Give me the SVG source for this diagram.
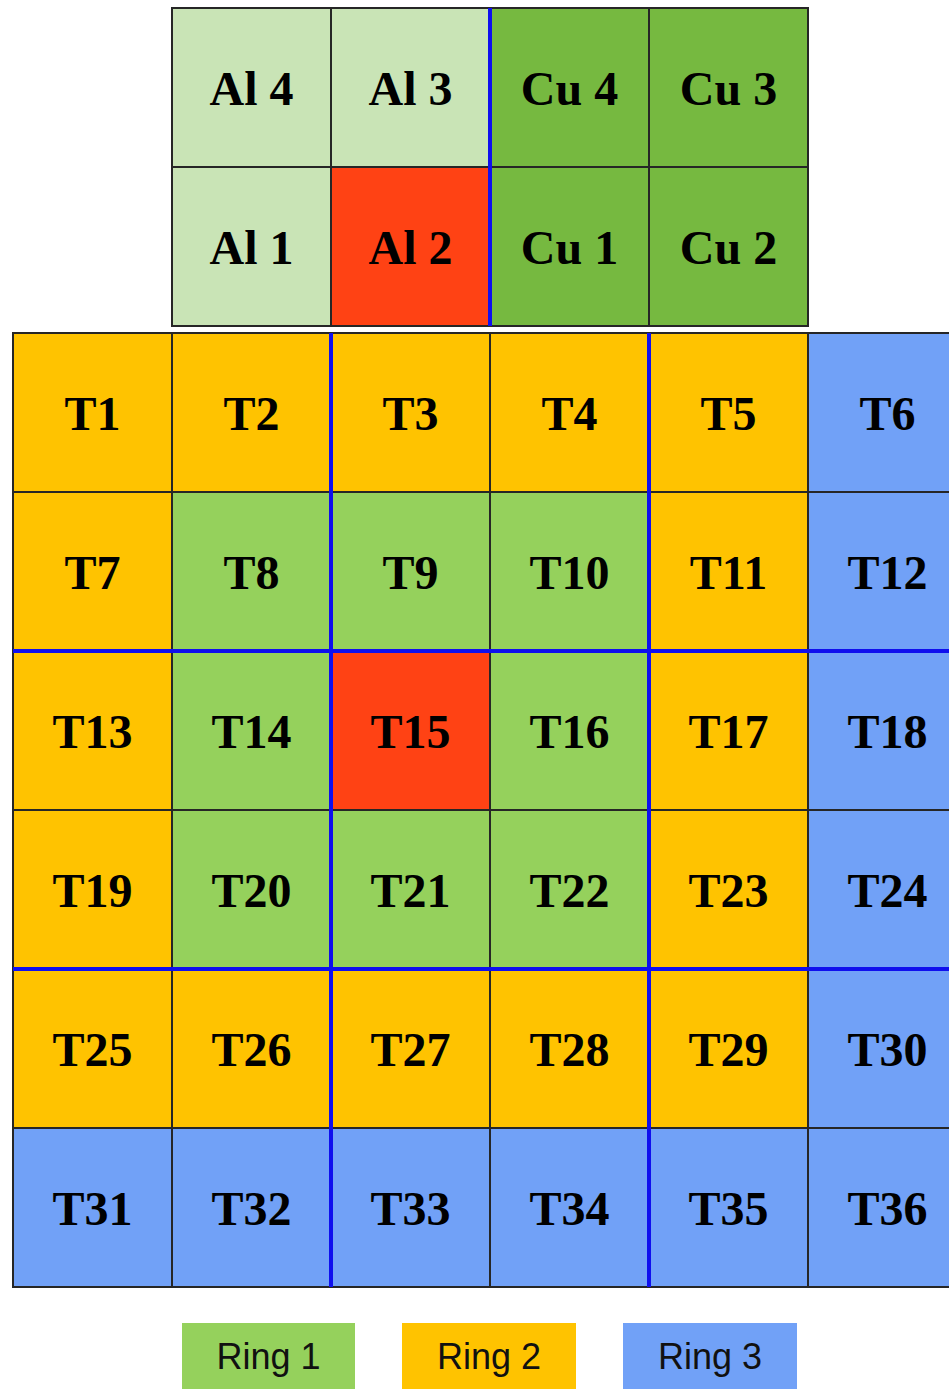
<svg xmlns="http://www.w3.org/2000/svg" width="949" height="1389" viewBox="0 0 949 1389">
<style>
rect.c{stroke:#262626;stroke-width:2}
.al{fill:#C9E4B6}.cu{fill:#76B940}.r{fill:#FF4214}.y{fill:#FFC300}.g{fill:#95D15C}.b{fill:#71A1F7}
text.t{font-family:"Liberation Serif","Times New Roman",serif;font-weight:bold;font-size:48px;fill:#000;text-anchor:middle}
text.l{font-family:"Liberation Sans",Arial,sans-serif;font-size:36px;fill:#111;text-anchor:middle}
.div{stroke:#0F0FEE;stroke-width:4;fill:none}
</style>
<rect width="949" height="1389" fill="#fff"/>
<g id="Al4"><rect class="c al" x="172" y="8" width="159" height="159"/><text class="t" x="251.5" y="105">Al 4</text></g>
<g id="Al3"><rect class="c al" x="331" y="8" width="159" height="159"/><text class="t" x="410.5" y="105">Al 3</text></g>
<g id="Cu4"><rect class="c cu" x="490" y="8" width="159" height="159"/><text class="t" x="569.5" y="105">Cu 4</text></g>
<g id="Cu3"><rect class="c cu" x="649" y="8" width="159" height="159"/><text class="t" x="728.5" y="105">Cu 3</text></g>
<g id="Al1"><rect class="c al" x="172" y="167" width="159" height="159"/><text class="t" x="251.5" y="264">Al 1</text></g>
<g id="Al2"><rect class="c r" x="331" y="167" width="159" height="159"/><text class="t" x="410.5" y="264">Al 2</text></g>
<g id="Cu1"><rect class="c cu" x="490" y="167" width="159" height="159"/><text class="t" x="569.5" y="264">Cu 1</text></g>
<g id="Cu2"><rect class="c cu" x="649" y="167" width="159" height="159"/><text class="t" x="728.5" y="264">Cu 2</text></g>

<g id="T1"><rect class="c y" x="13" y="333" width="159" height="159"/><text class="t" x="92.5" y="430">T1</text></g>
<g id="T2"><rect class="c y" x="172" y="333" width="159" height="159"/><text class="t" x="251.5" y="430">T2</text></g>
<g id="T3"><rect class="c y" x="331" y="333" width="159" height="159"/><text class="t" x="410.5" y="430">T3</text></g>
<g id="T4"><rect class="c y" x="490" y="333" width="159" height="159"/><text class="t" x="569.5" y="430">T4</text></g>
<g id="T5"><rect class="c y" x="649" y="333" width="159" height="159"/><text class="t" x="728.5" y="430">T5</text></g>
<g id="T6"><rect class="c b" x="808" y="333" width="159" height="159"/><text class="t" x="887.5" y="430">T6</text></g>

<g id="T7"><rect class="c y" x="13" y="492" width="159" height="159"/><text class="t" x="92.5" y="589">T7</text></g>
<g id="T8"><rect class="c g" x="172" y="492" width="159" height="159"/><text class="t" x="251.5" y="589">T8</text></g>
<g id="T9"><rect class="c g" x="331" y="492" width="159" height="159"/><text class="t" x="410.5" y="589">T9</text></g>
<g id="T10"><rect class="c g" x="490" y="492" width="159" height="159"/><text class="t" x="569.5" y="589">T10</text></g>
<g id="T11"><rect class="c y" x="649" y="492" width="159" height="159"/><text class="t" x="728.5" y="589">T11</text></g>
<g id="T12"><rect class="c b" x="808" y="492" width="159" height="159"/><text class="t" x="887.5" y="589">T12</text></g>

<g id="T13"><rect class="c y" x="13" y="651" width="159" height="159"/><text class="t" x="92.5" y="748">T13</text></g>
<g id="T14"><rect class="c g" x="172" y="651" width="159" height="159"/><text class="t" x="251.5" y="748">T14</text></g>
<g id="T15"><rect class="c r" x="331" y="651" width="159" height="159"/><text class="t" x="410.5" y="748">T15</text></g>
<g id="T16"><rect class="c g" x="490" y="651" width="159" height="159"/><text class="t" x="569.5" y="748">T16</text></g>
<g id="T17"><rect class="c y" x="649" y="651" width="159" height="159"/><text class="t" x="728.5" y="748">T17</text></g>
<g id="T18"><rect class="c b" x="808" y="651" width="159" height="159"/><text class="t" x="887.5" y="748">T18</text></g>

<g id="T19"><rect class="c y" x="13" y="810" width="159" height="159"/><text class="t" x="92.5" y="907">T19</text></g>
<g id="T20"><rect class="c g" x="172" y="810" width="159" height="159"/><text class="t" x="251.5" y="907">T20</text></g>
<g id="T21"><rect class="c g" x="331" y="810" width="159" height="159"/><text class="t" x="410.5" y="907">T21</text></g>
<g id="T22"><rect class="c g" x="490" y="810" width="159" height="159"/><text class="t" x="569.5" y="907">T22</text></g>
<g id="T23"><rect class="c y" x="649" y="810" width="159" height="159"/><text class="t" x="728.5" y="907">T23</text></g>
<g id="T24"><rect class="c b" x="808" y="810" width="159" height="159"/><text class="t" x="887.5" y="907">T24</text></g>

<g id="T25"><rect class="c y" x="13" y="969" width="159" height="159"/><text class="t" x="92.5" y="1066">T25</text></g>
<g id="T26"><rect class="c y" x="172" y="969" width="159" height="159"/><text class="t" x="251.5" y="1066">T26</text></g>
<g id="T27"><rect class="c y" x="331" y="969" width="159" height="159"/><text class="t" x="410.5" y="1066">T27</text></g>
<g id="T28"><rect class="c y" x="490" y="969" width="159" height="159"/><text class="t" x="569.5" y="1066">T28</text></g>
<g id="T29"><rect class="c y" x="649" y="969" width="159" height="159"/><text class="t" x="728.5" y="1066">T29</text></g>
<g id="T30"><rect class="c b" x="808" y="969" width="159" height="159"/><text class="t" x="887.5" y="1066">T30</text></g>

<g id="T31"><rect class="c b" x="13" y="1128" width="159" height="159"/><text class="t" x="92.5" y="1225">T31</text></g>
<g id="T32"><rect class="c b" x="172" y="1128" width="159" height="159"/><text class="t" x="251.5" y="1225">T32</text></g>
<g id="T33"><rect class="c b" x="331" y="1128" width="159" height="159"/><text class="t" x="410.5" y="1225">T33</text></g>
<g id="T34"><rect class="c b" x="490" y="1128" width="159" height="159"/><text class="t" x="569.5" y="1225">T34</text></g>
<g id="T35"><rect class="c b" x="649" y="1128" width="159" height="159"/><text class="t" x="728.5" y="1225">T35</text></g>
<g id="T36"><rect class="c b" x="808" y="1128" width="159" height="159"/><text class="t" x="887.5" y="1225">T36</text></g>

<g id="dividers">
<line class="div" x1="490" y1="8" x2="490" y2="326"/>
<line class="div" x1="331" y1="333" x2="331" y2="1287"/>
<line class="div" x1="649" y1="333" x2="649" y2="1287"/>
<line class="div" x1="13" y1="651" x2="949" y2="651"/>
<line class="div" x1="13" y1="969" x2="949" y2="969"/>
</g>

<g id="legend-ring1"><rect class="g" x="182" y="1323" width="173" height="70"/><text class="l" x="268.5" y="1369">Ring 1</text></g>
<g id="legend-ring2"><rect class="y" x="402" y="1323" width="174" height="70"/><text class="l" x="489" y="1369">Ring 2</text></g>
<g id="legend-ring3"><rect class="b" x="623" y="1323" width="174" height="70"/><text class="l" x="710" y="1369">Ring 3</text></g>
</svg>
